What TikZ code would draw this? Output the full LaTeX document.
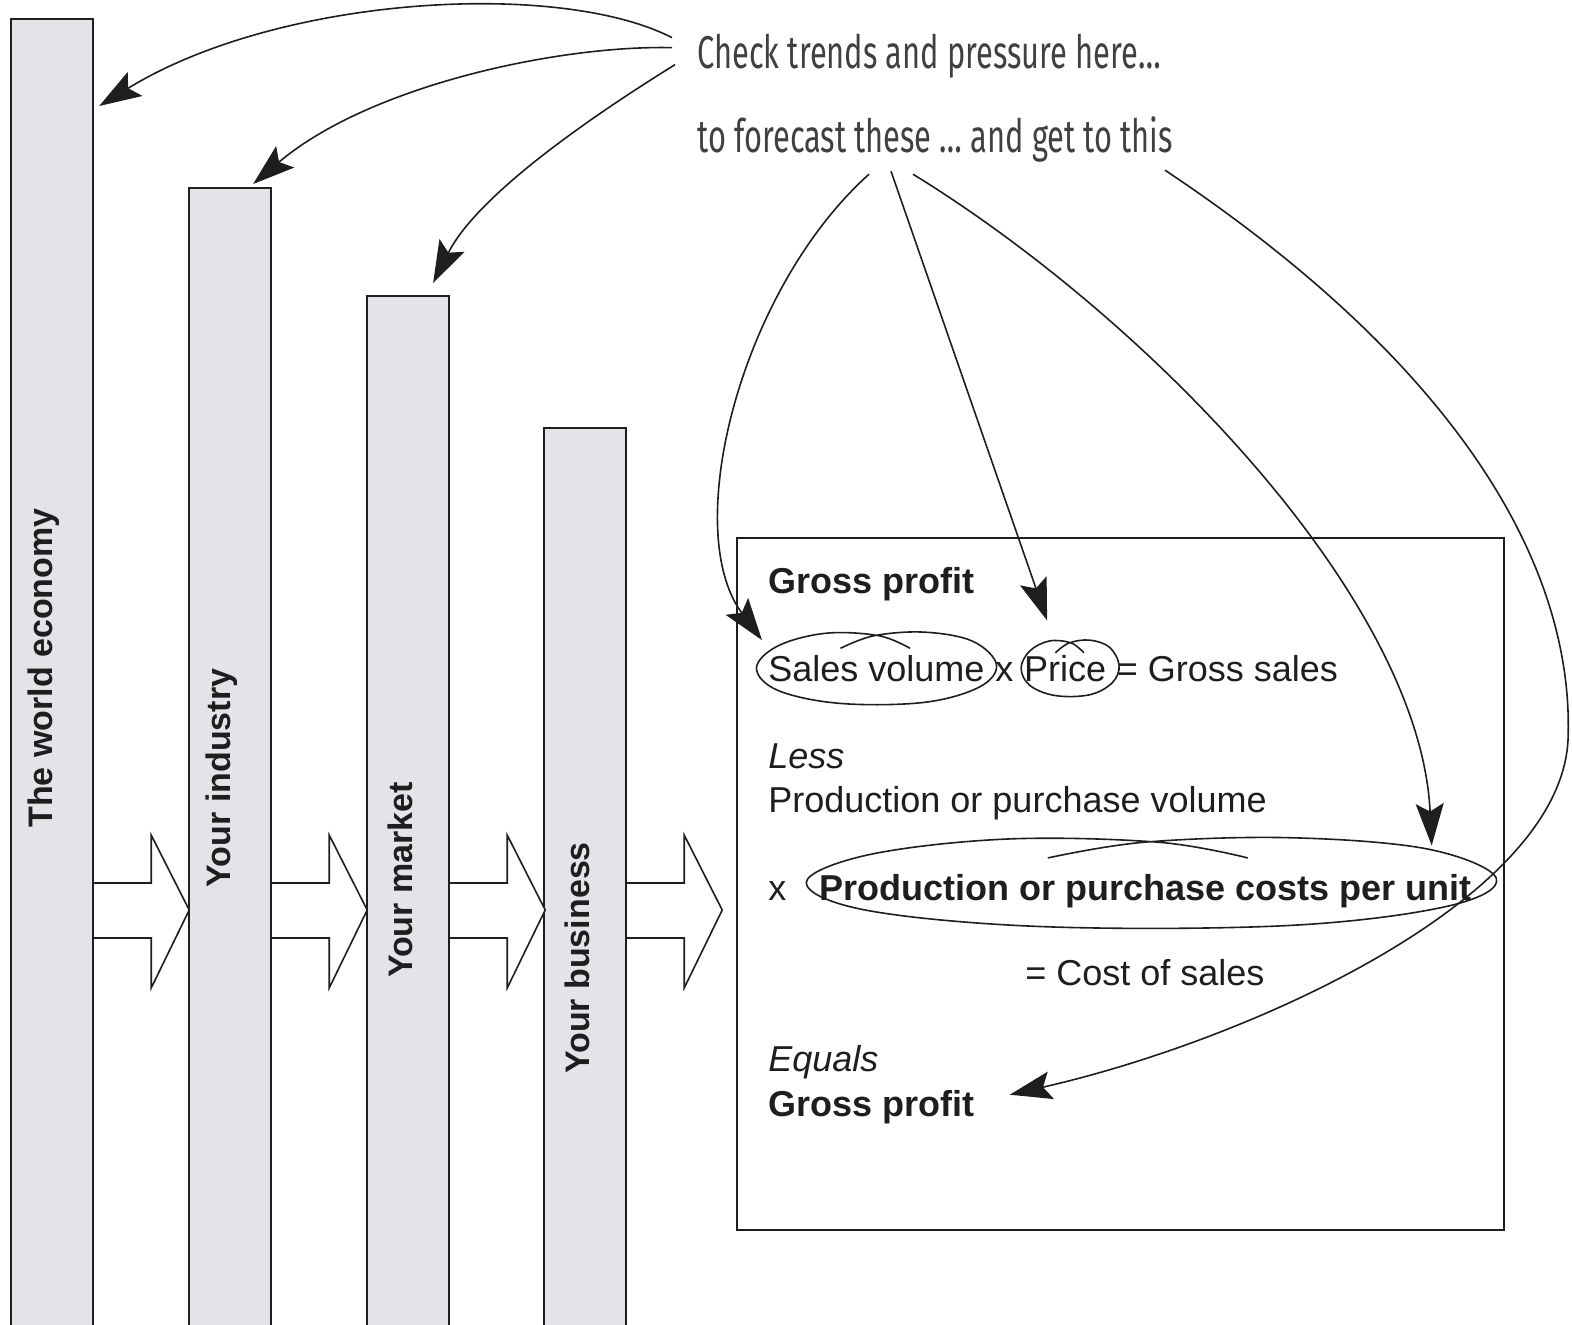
\documentclass[tikz,border=0pt]{standalone}
\usepackage{fontspec}
\setmainfont{Liberation Sans}
\newfontfamily\handfont[FakeStretch=0.67]{Fira Sans}
\usetikzlibrary{arrows.meta,positioning}

\definecolor{ink}{RGB}{30,30,30}
\definecolor{barfill}{RGB}{228,228,232}

\begin{document}
\begin{tikzpicture}[x=0.5pt,y=-0.5pt,
    bar/.style={draw=ink, line width=1.1pt, fill=barfill, minimum width=41pt, inner sep=0pt, anchor=north west},
    barlabel/.style={xshift=-4pt, rotate=90, inner sep=0pt, text=ink, font=\fontsize{17}{20}\selectfont\bfseries},
    flow/.style={draw=ink, line width=0.8pt, fill=white},
    body/.style={anchor=base west, inner sep=0pt, text=ink, font=\fontsize{18}{22}\selectfont},
    bodybold/.style={body, font=\fontsize{18}{22}\selectfont\bfseries},
    bodyit/.style={body, font=\fontsize{18}{22}\selectfont\itshape},
    note/.style={anchor=base west, inner sep=0pt, text=ink!85, font=\fontsize{23}{27}\selectfont\handfont},
    link/.style={draw=ink, line width=0.8pt, -{Stealth[length=21pt,width=14pt,inset=4pt]}},
    loopline/.style={draw=ink, line width=0.8pt},
  ]
  \useasboundingbox (0,0) rectangle (1572,1324);

  % Bars, from the wide world down to the business
  \node[bar, minimum height=661pt] (economy) at (10,18) {};
  \node[bar, minimum height=576.5pt] (industry) at (188,187) {};
  \node[bar, minimum height=522.5pt] (market) at (366,295) {};
  \node[bar, minimum height=456.5pt] (business) at (543,427) {};

  \node[barlabel] (economy-label) at (economy.north |- 0,668) {The world economy};
  \node[barlabel] (industry-label) at (industry.north |- 0,778) {Your industry};
  \node[barlabel] (market-label) at (market.north |- 0,880) {Your market};
  \node[barlabel] (business-label) at (business.north |- 0,958) {Your business};

  % Block arrows between the bars
  \foreach \b in {economy,industry,market,business}
    \draw[flow] (\b.east |- 0,883) -- ++(57,0) -- ++(0,-48) -- ++(38,75) -- ++(-38,78) -- ++(0,-50) -- ++(-57,0);

  % Gross profit panel
  \node[draw=ink, line width=1.1pt, minimum width=383.5pt, minimum height=346pt, inner sep=0pt, anchor=north west] (panel) at (736,537) {};

  \node[bodybold] (gp-top) at (768,593) {Gross profit};
  \node[body] (volume) at (768,681) {Sales volume};
  \node[body, base right=5pt of volume] (times) {x};
  \node[body, base right=5pt of times] (price) {Price};
  \node[body, base right=5pt of price] (gross) {= Gross sales};
  \node[bodyit] (less) at (768,768) {Less};
  \node[body] (prodvol) at (768,812) {Production or purchase volume};
  \node[body] (times-b) at (768,900) {x};
  \node[bodybold, base right=16pt of times-b] (unitcost) {Production or purchase costs per unit};
  \node[body] (cost) at (1025,985) {= Cost of sales};
  \node[bodyit] (equals) at (768,1071) {Equals};
  \node[bodybold] (gp-bottom) at (768,1116) {Gross profit};

  % Hand drawn loops round the figures to forecast
  \draw[loopline, shift={(volume.center)}, x=60pt, y=-18pt] plot[smooth, tension=0.6] coordinates {(-0.3,-0.55) (-0.02,-0.9) (0.4,-1) (0.8,-0.75) (1,-0.1) (0.86,0.52) (0.4,0.95) (-0.3,0.98) (-0.82,0.62) (-1,0) (-0.82,-0.62) (-0.42,-0.97) (0.02,-0.9) (0.28,-0.55)};
  \draw[loopline, shift={([xshift=2.5pt]price.center)}, x=24.5pt, y=-14pt] plot[smooth, tension=0.6] coordinates {(-0.3,-0.55) (-0.02,-0.9) (0.4,-1) (0.8,-0.75) (1,-0.1) (0.86,0.52) (0.4,0.95) (-0.3,0.98) (-0.82,0.62) (-1,0) (-0.82,-0.62) (-0.42,-0.97) (0.02,-0.9) (0.28,-0.55)};
  \draw[loopline, shift={([xshift=3pt,yshift=4pt]unitcost.center)}, x=172.5pt, y=-22.5pt] plot[smooth, tension=0.6] coordinates {(-0.3,-0.55) (-0.02,-0.9) (0.4,-1) (0.8,-0.75) (1,-0.1) (0.86,0.52) (0.4,0.95) (-0.3,0.98) (-0.82,0.62) (-1,0) (-0.82,-0.62) (-0.42,-0.97) (0.02,-0.9) (0.28,-0.55)};

  % Notes at the top
  \node[note] (check) at (697,68) {Check trends and pressure here…};
  \node[note] (forecast) at (697,152) {to forecast these … and get to this};

  % Arrows to the bars
  \draw[link] ([shift={(-25,-18)}]check.west) .. controls (560,-20) and (280,-5) .. ([shift={(5,88)}]economy.north east);
  \draw[link] ([shift={(-25,-8)}]check.west) .. controls (560,45) and (370,85) .. ([shift={(23,-3)}]industry.north);
  \draw[link] ([shift={(-22,9)}]check.west) .. controls (610,105) and (480,190) .. ([shift={(25,-12)}]market.north);

  % Arrows into the panel
  \draw[link] ([shift={(172,12)}]forecast.south west) .. controls (740,290) and (680,530) .. ([shift={(-6,-28)}]volume.west);
  \draw[link] ([shift={(194,9)}]forecast.south west) -- ([shift={(-18,-34)}]price.north);
  \draw[link] ([shift={(216,12)}]forecast.south west) .. controls (1150,320) and (1420,600) .. ([shift={(-40,-28)}]unitcost.north east);
  \draw[link] ([shift={(468,8)}]forecast.south west) .. controls (1450,360) and (1575,560) .. (1568,740) .. controls (1560,900) and (1250,1040) .. ([shift={(35,-12)}]gp-bottom.east);
\end{tikzpicture}
\end{document}
